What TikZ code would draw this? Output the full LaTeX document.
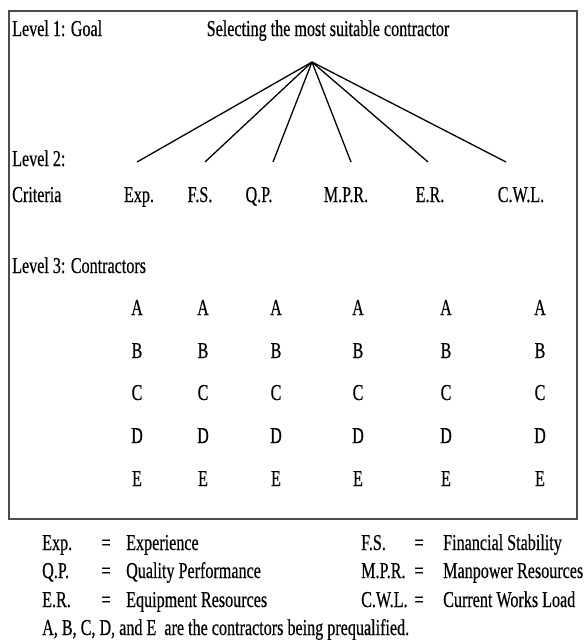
\documentclass[tikz,border=0pt]{standalone}
\usepackage{fontspec}
\setmainfont{Liberation Serif}[FakeStretch=0.71, FakeBold=0.4]
\usetikzlibrary{positioning}

\begin{document}
\begin{tikzpicture}[
  x=1pt, y=-1pt,
  font=\fontsize{22.7}{26}\selectfont,
  lvl/.style={inner sep=0pt, anchor=base west},
  crit/.style={inner sep=0pt, anchor=base},
  cont/.style={inner sep=0pt, anchor=base},
  branch/.style={line width=1.3pt},
]
\useasboundingbox (0,0) rectangle (586,641);
% frame round the hierarchy
\draw[line width=1.4pt, black!70] (9,11) rectangle (577,519);

% level 1: goal
\node[lvl] (lvl1) at (12,36) {Level 1: Goal};
\node[crit] (goal) at (328,36) {Selecting the most suitable contractor};
\coordinate (apex) at (312,62);

% level 2: criteria
\node[lvl] (lvl2) at (12,166) {Level 2:};
\node[lvl] (crit) at (12,202) {Criteria};
\node[crit] (exp) at (139,202) {Exp.};
\node[crit] (fs)  at (200,202) {F.S.};
\node[crit] (qp)  at (259,202) {Q.P.};
\node[crit] (mpr) at (346,202) {M.P.R.};
\node[crit] (er)  at (430,202) {E.R.};
\node[crit] (cwl) at (521,202) {C.W.L.};
\coordinate (exp-top) at (137,162);
\coordinate (fs-top)  at (205,162);
\coordinate (qp-top)  at (273,162);
\coordinate (mpr-top) at (351,162);
\coordinate (er-top)  at (428,162);
\coordinate (cwl-top) at (506,162);
\foreach \c in {exp,fs,qp,mpr,er,cwl}
  \draw[branch] (apex) -- (\c-top);

% level 3: contractors
\node[lvl] (lvl3) at (12,273) {Level 3: Contractors};
\foreach \x [count=\i] in {137,203,276,358,446,540}
  \foreach \l/\y in {A/315,B/358,C/400,D/443,E/486}
    \node[cont] (\l\i) at (\x,\y) {\l};

% legend
\node[lvl] (k-exp) at (42,550) {Exp.};
\node[crit] (eq-exp) at (106,550) {=};
\node[lvl] (d-exp) at (126,550) {Experience};
\node[lvl] (k-qp) at (42,578) {Q.P.};
\node[crit] (eq-qp) at (106,578) {=};
\node[lvl] (d-qp) at (126,578) {Quality Performance};
\node[lvl] (k-er) at (42,607) {E.R.};
\node[crit] (eq-er) at (106,607) {=};
\node[lvl] (d-er) at (126,607) {Equipment Resources};
\node[lvl] (k-fs) at (361,550) {F.S.};
\node[crit] (eq-fs) at (419,550) {=};
\node[lvl] (d-fs) at (443,550) {Financial Stability};
\node[lvl] (k-mpr) at (361,578) {M.P.R.};
\node[crit] (eq-mpr) at (419,578) {=};
\node[lvl] (d-mpr) at (443,578) {Manpower Resources};
\node[lvl] (k-cwl) at (361,607) {C.W.L.};
\node[crit] (eq-cwl) at (419,607) {=};
\node[lvl] (d-cwl) at (443,607) {Current Works Load};
\node[lvl] (note) at (42,635) {A, B, C, D, and E~ are the contractors being prequalified.};
\end{tikzpicture}
\end{document}
